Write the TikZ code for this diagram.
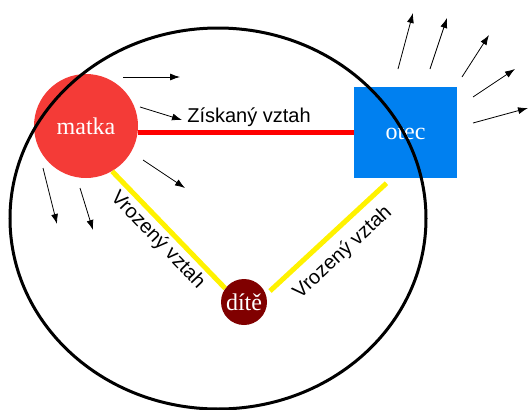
\documentclass[tikz,border=0pt]{standalone}
\usepackage{fontspec}
\setmainfont{Liberation Serif}
\setsansfont{Liberation Sans}
\usetikzlibrary{arrows.meta,calc,positioning}
\definecolor{matkared}{RGB}{244,59,55}
\definecolor{otecblue}{RGB}{0,128,240}
\definecolor{ditered}{RGB}{128,0,0}
\tikzset{
	person/.style={text=white,inner sep=0pt,font=\rmfamily\fontsize{24}{28}\selectfont},
	acquired/.style={red,line width=5pt},
	innate/.style={yellow,line width=5pt},
	relabel/.style={black,font=\sffamily\fontsize{20}{24}\selectfont},
	ray/.style={black,line width=0.8pt,-{Latex[length=10pt,width=7pt]}},
}
\begin{document}
\begin{tikzpicture}[x=1pt,y=-1pt]
	\useasboundingbox (0,0) rectangle (528,410);
	\node (matka) at (86,126) [person,circle,fill=matkared,minimum size=104pt] {matka};
	\node (otec) at (405.5,132.5) [person,rectangle,fill=otecblue,minimum width=103pt,minimum height=91pt] {otec};
	\node (dite) at (244,302) [person,circle,fill=ditered,minimum size=46pt] {dítě};
	\draw[acquired] (otec.west) -- (otec.west -| matka.east) node[midway,above,xshift=3pt,relabel] {Získaný vztah};
	\draw[innate] (matka.-60) -- (dite.144) node[midway,sloped,below,relabel] {Vrozený vztah};
	\draw[innate] ([xshift=26pt,yshift=11pt]dite.center) -- ([xshift=-19pt,yshift=-5pt]otec.south) node[midway,sloped,below=6pt,relabel] {Vrozený vztah};
	\draw[line width=3pt] (218,218.5) ellipse [x radius=208,y radius=190.5];
	\foreach \xa/\ya/\xb/\yb in {123/77/180/77,140/107/182/120,143/160/185/188,43/168/57/224,80/188/93/230,
		398/69/413/13,430/69/447/18,462/77/489/35,473/97/515/69,473/123/528/108}
		\draw[ray] (\xa,\ya) -- (\xb,\yb);
\end{tikzpicture}
\end{document}
